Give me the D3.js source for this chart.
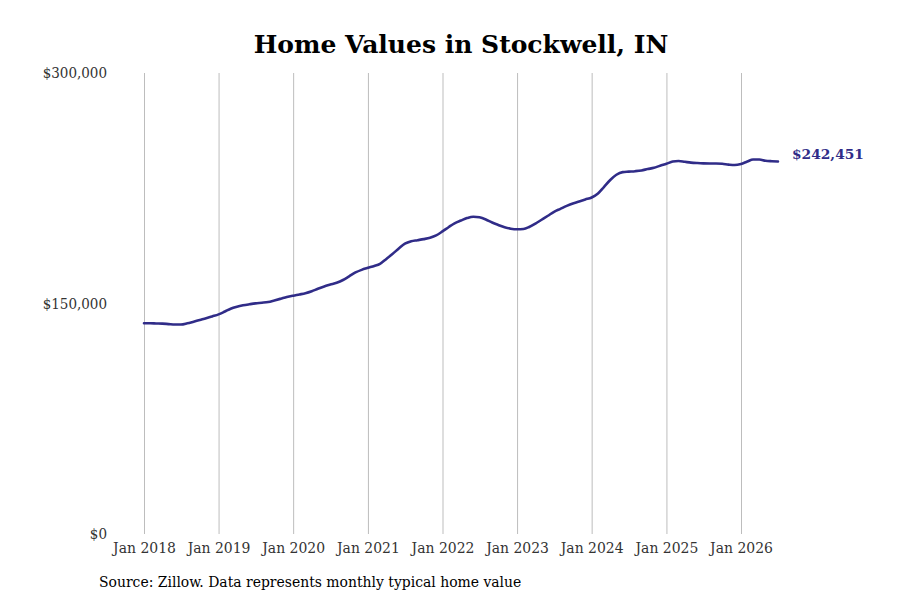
<!DOCTYPE html>
<html>
<head>
<meta charset="utf-8">
<script src="https://cdn.jsdelivr.net/npm/d3@7"></script>
<style>
  body { margin: 0; background: #fff; }
  svg { display: block; }
</style>
</head>
<body>
<div id="chart"></div>
<script>
// Chart size
const w = 900;
const h = 600;

// Monthly typical home value, Jan 2018 to Jul 2026
const startMonth = "2018-01";
const values = [
  137100, 137100, 137000, 136900, 136600, 136300, 136300, 137100, 138200, 139300, 140400, 141600,
  142900, 144800, 146600, 147900, 148800, 149500, 150100, 150500, 151000, 152000, 153100, 154200,
  155100, 155900, 156700, 158000, 159600, 161100, 162300, 163500, 165300, 167700, 170200, 171900,
  173200, 174400, 175800, 179000, 182200, 185800, 188900, 190500, 191200, 191900, 192800, 194300,
  196900, 199800, 202200, 204000, 205600, 206500, 206100, 204700, 202700, 201100, 199600, 198700,
  198300, 198500, 199800, 202000, 204500, 207100, 209700, 211600, 213500, 215100, 216400, 217700,
  219000, 221600, 225800, 230400, 233800, 235500, 235800, 236100, 236600, 237500, 238300, 239700,
  240900, 242400, 242700, 242200, 241700, 241400, 241200, 241100, 241100, 240900, 240400, 240100,
  240800, 242400, 243700, 243700, 242900, 242600, 242451
];

// Axis ticks
const yTicks = [0, 150000, 300000];
const xTickYears = [2018, 2019, 2020, 2021, 2022, 2023, 2024, 2025, 2026];

// Colors
const lineColor = "#302c88";
const gridColor = "#bdbdbd";
const tickTextColor = "#333333";

const parseMonth = d3.timeParse("%Y-%m");
const start = parseMonth(startMonth);
const data = values.map((v, i) => ({ date: d3.timeMonth.offset(start, i), value: v }));

const xScale = d3.scaleTime()
                 .domain([new Date(2018, 0, 1), new Date(2026, 0, 1)])
                 .range([144, 741]);

const yScale = d3.scaleLinear()
                 .domain([0, 300000])
                 .range([534, 73]);

const svg = d3.select("#chart")
              .append("svg")
              .attr("width", w)
              .attr("height", h);

const condensed = "'DejaVu Serif Condensed', 'DejaVu Serif', serif";

// Title
svg.append("text")
   .attr("x", 461)
   .attr("y", 53)
   .attr("text-anchor", "middle")
   .style("font-family", "'DejaVu Serif', serif")
   .style("font-weight", "bold")
   .style("font-size", "25px")
   .attr("fill", "#000")
   .text("Home Values in Stockwell, IN");

// Vertical gridlines at each January
const xAxis = d3.axisBottom(xScale)
                .tickValues(xTickYears.map(y => new Date(y, 0, 1)))
                .tickSize(-(534 - 73))
                .tickPadding(8)
                .tickFormat(d3.timeFormat("Jan %Y"));

const gx = svg.append("g")
              .attr("transform", "translate(0,534)")
              .call(xAxis);
gx.select(".domain").remove();
gx.selectAll(".tick line").attr("stroke", gridColor).attr("stroke-width", 1);
gx.selectAll(".tick text")
  .attr("fill", tickTextColor)
  .style("font-family", condensed)
  .style("font-size", "15.5px");

// Y axis labels only
const yAxis = d3.axisLeft(yScale)
                .tickValues(yTicks)
                .tickSize(0)
                .tickPadding(0)
                .tickFormat(d => "$" + d3.format(",")(d));

const gy = svg.append("g")
              .attr("transform", "translate(107,0)")
              .call(yAxis);
gy.select(".domain").remove();
gy.selectAll(".tick text")
  .attr("fill", tickTextColor)
  .style("font-family", condensed)
  .style("font-size", "15px");

// Value line
const line = d3.line()
               .x(d => xScale(d.date))
               .y(d => yScale(d.value))
               .curve(d3.curveMonotoneX);

svg.append("path")
   .datum(data)
   .attr("fill", "none")
   .attr("stroke", lineColor)
   .attr("stroke-width", 2.6)
   .attr("stroke-linejoin", "round")
   .attr("stroke-linecap", "round")
   .attr("d", line);

// End label
const last = data[data.length - 1];
svg.append("text")
   .attr("x", xScale(last.date) + 14)
   .attr("y", yScale(last.value) - 6)
   .attr("dominant-baseline", "middle")
   .style("font-family", "'DejaVu Serif', serif")
   .style("font-weight", "bold")
   .style("font-size", "13.8px")
   .attr("fill", lineColor)
   .text("$" + d3.format(",")(last.value));

// Source note
svg.append("text")
   .attr("x", 99)
   .attr("y", 587)
   .style("font-family", condensed)
   .style("font-size", "15.5px")
   .attr("fill", "#000")
   .text("Source: Zillow. Data represents monthly typical home value");
</script>
</body>
</html>
